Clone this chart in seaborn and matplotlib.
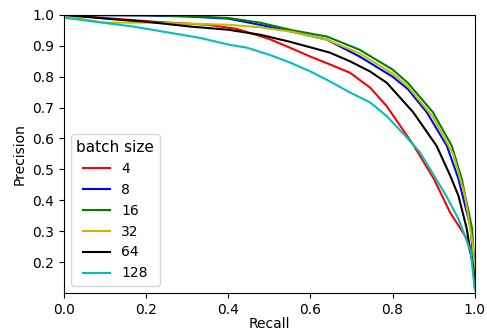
import pandas as pd
import matplotlib
matplotlib.use("Agg")
import matplotlib.pyplot as plt
import seaborn as sns

# precision/recall curves, one per batch size
recall_4 = [0, 0.1, 0.23, 0.35, 0.42, 0.5, 0.55, 0.6, 0.647, 0.696, 0.745, 0.786, 0.85, 0.9, 0.94, 0.98, 0.995, 1.0]
prec_4 = [1.0, 0.99, 0.977, 0.968, 0.955, 0.922, 0.894, 0.865, 0.84, 0.813, 0.765, 0.704, 0.58, 0.47, 0.36, 0.277, 0.2, 0.12]

recall_8 = [0, 0.2, 0.3, 0.4, 0.477, 0.557, 0.64, 0.72, 0.8, 0.837, 0.883, 0.932, 0.96, 0.99, 1.0]
prec_8 = [1.0, 0.998, 0.995, 0.988, 0.968, 0.945, 0.92, 0.865, 0.80, 0.76, 0.685, 0.576, 0.47, 0.31, 0.15]

recall_16 = [0, 0.2, 0.3, 0.4, 0.477, 0.557, 0.64, 0.72, 0.8, 0.837, 0.898, 0.944, 0.968, 0.993, 1.0]
prec_16 = [1.0, 0.999, 0.996, 0.99, 0.975, 0.95, 0.93, 0.887, 0.823, 0.78, 0.685, 0.576, 0.47, 0.31, 0.17]

recall_32 = [0, 0.05, 0.095, 0.2, 0.3, 0.4, 0.477, 0.557, 0.64, 0.72, 0.8, 0.837, 0.898, 0.947, 0.976, 0.995, 1.0]
prec_32 = [1.0, 0.985, 0.975, 0.975, 0.972, 0.968, 0.96, 0.945, 0.92, 0.875, 0.81, 0.768, 0.67, 0.55, 0.415, 0.255, 0.17]

recall_64 = [0, 0.11, 0.2, 0.31, 0.4, 0.477, 0.55, 0.647, 0.696, 0.745, 0.786, 0.85, 0.907, 0.94, 0.96, 0.98, 0.995, 1.0]
prec_64 = [1.0, 0.987, 0.978, 0.962, 0.952, 0.936, 0.913, 0.878, 0.85, 0.817, 0.78, 0.685, 0.576, 0.48, 0.415, 0.31, 0.19, 0.14]

recall_128 = [0, 0.007, 0.17, 0.33, 0.404, 0.445, 0.5, 0.55, 0.6, 0.647, 0.696, 0.745, 0.786, 0.834, 0.866, 0.93, 0.96, 0.99, 1.0]
prec_128 = [0.995, 0.99, 0.962, 0.926, 0.903, 0.894, 0.871, 0.846, 0.817, 0.785, 0.749, 0.717, 0.672, 0.604, 0.556, 0.415, 0.34, 0.235, 0.11]

batch_sizes = ["4", "8", "16", "32", "64", "128"]
curves = [(recall_4, prec_4), (recall_8, prec_8), (recall_16, prec_16),
          (recall_32, prec_32), (recall_64, prec_64), (recall_128, prec_128)]
colors = ["r", "b", "g", "y", "k", "c"]

rows = []
for bs, (r, p) in zip(batch_sizes, curves):
    for ri, pi in zip(r, p):
        rows.append({"Recall": ri, "Precision": pi, "batch size": bs})
df = pd.DataFrame(rows)

fig, ax = plt.subplots(figsize=(4.87, 3.31), dpi=100)
sns.lineplot(data=df, x="Recall", y="Precision", hue="batch size",
             hue_order=batch_sizes, palette=dict(zip(batch_sizes, colors)),
             estimator=None, linewidth=1.5, ax=ax)
ax.set_xlim(0, 1)
ax.set_ylim(0.1, 1.0)
ax.set_yticks([0.2, 0.3, 0.4, 0.5, 0.6, 0.7, 0.8, 0.9, 1.0])
ax.set_xlabel("Recall", labelpad=0)
ax.set_ylabel("Precision")
ax.legend(title="batch size", loc="lower left", fontsize=10, title_fontsize=11)
fig.subplots_adjust(left=0.131, right=0.975, top=0.955, bottom=0.115)
plt.savefig("out.png")
plt.close()
